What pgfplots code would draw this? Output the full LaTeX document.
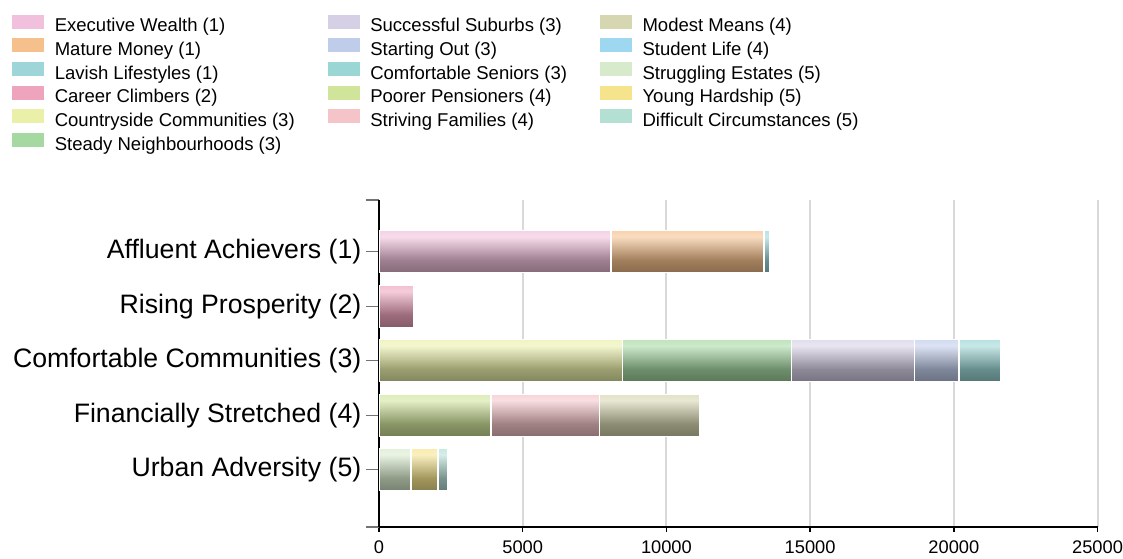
\documentclass[border=0pt]{standalone}
\usepackage{fontspec}
\setmainfont{Liberation Sans}
\usepackage{pgfplots}
\usepackage{pgfplotstable}
\pgfplotsset{compat=1.18}

% segment colours (legend swatches)
\definecolor{cEW}{HTML}{F0C0DC}
\definecolor{cMM}{HTML}{F5C08C}
\definecolor{cLL}{HTML}{9DD5D9}
\definecolor{cCaC}{HTML}{EEA4BC}
\definecolor{cCoC}{HTML}{EAF0A8}
\definecolor{cSN}{HTML}{A6D8A2}
\definecolor{cSS}{HTML}{D6D0E6}
\definecolor{cSO}{HTML}{BFCCEA}
\definecolor{cCS}{HTML}{9AD6D4}
\definecolor{cPP}{HTML}{D0E49A}
\definecolor{cSF}{HTML}{F4C4C8}
\definecolor{cModM}{HTML}{D6D6B0}
\definecolor{cSL}{HTML}{9DD8F0}
\definecolor{cSE}{HTML}{D8EACC}
\definecolor{cYH}{HTML}{F6E48C}
\definecolor{cDC}{HTML}{B4E0D4}

% glossy vertical gradient for each colour
\newcommand\mkshade[1]{\pgfdeclareverticalshading{sh#1}{100bp}{color(0bp)=(#1!38!black); color(40bp)=(#1!66!black); color(68bp)=(#1!55!white); color(88bp)=(#1); color(100bp)=(#1)}}
\mkshade{cEW}\mkshade{cMM}\mkshade{cLL}\mkshade{cCaC}\mkshade{cCoC}\mkshade{cSN}
\mkshade{cSS}\mkshade{cSO}\mkshade{cCS}\mkshade{cPP}\mkshade{cSF}\mkshade{cModM}
\mkshade{cSL}\mkshade{cSE}\mkshade{cYH}\mkshade{cDC}

\pgfplotstableread{
cat EW   MM   LL  CaC  CoC  SN   SS   SO   CS   PP   SF   ModM SL SE   YH  DC
0   8070 5330 185 0    0    0    0    0    0    0    0    0    0  0    0   0
1   0    0    0   1200 0    0    0    0    0    0    0    0    0  0    0   0
2   0    0    0   0    8470 5890 4260 1560 1460 0    0    0    0  0    0   0
3   0    0    0   0    0    0    0    0    0    3900 3770 3500 0  0    0   0
4   0    0    0   0    0    0    0    0    0    0    0    0    0  1110 940 330
}\segs

\pgfplotsset{
  seg/.style={shading=sh#1, draw=white, line width=1pt, forget plot},
  sw/.style={legend image code/.code={\fill[#1] (0pt,-0.6pt) rectangle (23.25pt,9.15pt);}},
}

\begin{document}
\begin{tikzpicture}
\begin{axis}[
    scale only axis,
    width=538.9pt,
    height=245.25pt,
    xbar stacked,
    bar width=31.5pt,
    y dir=reverse,
    xmin=0, xmax=25000,
    ymin=-0.95, ymax=5.05,
    enlargelimits=false,
    axis x line*=bottom,
    axis y line*=left,
    axis line style={black, line width=1.3pt},
    set layers=standard,
    axis line style={/pgfplots/on layer=axis foreground},
    xtick={0,5000,10000,15000,20000,25000},
    scaled x ticks=false,
    /pgf/number format/1000 sep={},
    /pgf/number format/assume math mode=true,
    xmajorgrids,
    grid style={draw=black!15, line width=1.5pt},
    ytick={0,1,2,3,4},
    yticklabels={Affluent Achievers (1), Rising Prosperity (2), Comfortable Communities (3), Financially Stretched (4), Urban Adversity (5)},
    extra y ticks={-0.95,5.05},
    extra y tick labels={},
    extra y tick style={grid=none},
    tick align=outside,
    major tick length=9.75pt,
    xtick style={black, line width=1pt, /pgfplots/major tick length=3.75pt},
    ytick style={black!55, line width=1pt},
    xticklabel style={font=\fontsize{13.7}{16}\selectfont, yshift=3pt},
    yticklabel style={font=\fontsize{20}{24}\selectfont},
    legend columns=3,
    legend cell align=left,
    legend style={draw=none, fill=none, at={(-0.5108,1.568)}, anchor=north west,
        font=\fontsize{13.9}{16}\selectfont, inner sep=0pt, row sep=1.9pt, column sep=0pt,
        nodes={inner sep=0pt, text height=10pt, text depth=3pt},
        /tikz/every odd column/.append style={column sep=8.25pt},
        /tikz/every even column/.append style={column sep=24.75pt}},
]
\coordinate (o) at (rel axis cs:0,0);
\addplot[seg=cEW]   table[x=EW,   y=cat] {\segs};
\addplot[seg=cMM]   table[x=MM,   y=cat] {\segs};
\addplot[seg=cLL]   table[x=LL,   y=cat] {\segs};
\addplot[seg=cCaC]  table[x=CaC,  y=cat] {\segs};
\addplot[seg=cCoC]  table[x=CoC,  y=cat] {\segs};
\addplot[seg=cSN]   table[x=SN,   y=cat] {\segs};
\addplot[seg=cSS]   table[x=SS,   y=cat] {\segs};
\addplot[seg=cSO]   table[x=SO,   y=cat] {\segs};
\addplot[seg=cCS]   table[x=CS,   y=cat] {\segs};
\addplot[seg=cPP]   table[x=PP,   y=cat] {\segs};
\addplot[seg=cSF]   table[x=SF,   y=cat] {\segs};
\addplot[seg=cModM] table[x=ModM, y=cat] {\segs};
\addplot[seg=cSL]   table[x=SL,   y=cat] {\segs};
\addplot[seg=cSE]   table[x=SE,   y=cat] {\segs};
\addplot[seg=cYH]   table[x=YH,   y=cat] {\segs};
\addplot[seg=cDC]   table[x=DC,   y=cat] {\segs};

% legend, row by row (three columns)
\addlegendimage{sw=cEW}   \addlegendentry{Executive Wealth (1)}
\addlegendimage{sw=cSS}   \addlegendentry{Successful Suburbs (3)}
\addlegendimage{sw=cModM} \addlegendentry{Modest Means (4)}
\addlegendimage{sw=cMM}   \addlegendentry{Mature Money (1)}
\addlegendimage{sw=cSO}   \addlegendentry{Starting Out (3)}
\addlegendimage{sw=cSL}   \addlegendentry{Student Life (4)}
\addlegendimage{sw=cLL}   \addlegendentry{Lavish Lifestyles (1)}
\addlegendimage{sw=cCS}   \addlegendentry{Comfortable Seniors (3)}
\addlegendimage{sw=cSE}   \addlegendentry{Struggling Estates (5)}
\addlegendimage{sw=cCaC}  \addlegendentry{Career Climbers (2)}
\addlegendimage{sw=cPP}   \addlegendentry{Poorer Pensioners (4)}
\addlegendimage{sw=cYH}   \addlegendentry{Young Hardship (5)}
\addlegendimage{sw=cCoC}  \addlegendentry{Countryside Communities (3)}
\addlegendimage{sw=cSF}   \addlegendentry{Striving Families (4)}
\addlegendimage{sw=cDC}   \addlegendentry{Difficult Circumstances (5)}
\addlegendimage{sw=cSN}   \addlegendentry{Steady Neighbourhoods (3)}
\end{axis}
\pgfresetboundingbox
\path[use as bounding box] ([shift={(-284.25pt,-24pt)}]o) rectangle ++(842.25pt,419.25pt);
\end{tikzpicture}
\end{document}
